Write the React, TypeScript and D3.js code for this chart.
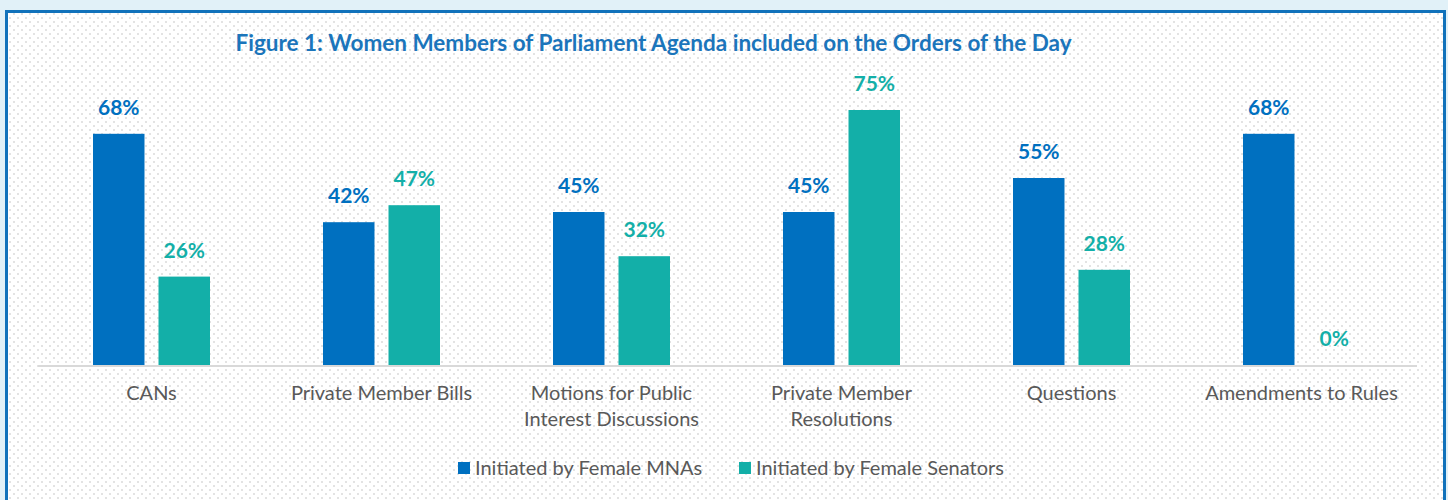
import * as d3 from "d3";
import { useEffect, useRef } from "react";

const categories = [
  ["CANs"],
  ["Private Member Bills"],
  ["Motions for Public", "Interest Discussions"],
  ["Private Member", "Resolutions"],
  ["Questions"],
  ["Amendments to Rules"],
];
const seriesNames = ["Initiated by Female MNAs", "Initiated by Female Senators"];
const mnaValues = [68, 42, 45, 45, 55, 68];
const senatorValues = [26, 47, 32, 75, 28, 0];
const colors = ["#0070C0", "#13AFA8"];

const W = 1448;
const H = 500;
const FONT = "Lato, 'Open Sans', sans-serif";

const App = () => {
  const chartRef = useRef(null);

  useEffect(() => {
    const svg = d3.select(chartRef.current);
    svg.selectAll("*").remove();

    const margin = { top: 93, bottom: 135, left: 36.5, right: 31.5 };
    const baseY = H - margin.bottom;

    // background + frame
    const defs = svg.append("defs");
    const pat = defs.append("pattern")
      .attr("id", "dots")
      .attr("width", 8)
      .attr("height", 8)
      .attr("patternUnits", "userSpaceOnUse");
    pat.append("rect").attr("width", 8).attr("height", 8).attr("fill", "#ffffff");
    pat.append("rect").attr("x", 1).attr("y", 1).attr("width", 2).attr("height", 2).attr("fill", "#e3e3e3");
    pat.append("rect").attr("x", 5).attr("y", 5).attr("width", 2).attr("height", 2).attr("fill", "#e3e3e3");

    svg.append("rect").attr("width", W).attr("height", H).attr("fill", "#e1f1f8");
    svg.append("rect")
      .attr("x", 6.5).attr("y", 11.5)
      .attr("width", 1438).attr("height", 500)
      .attr("fill", "url(#dots)")
      .attr("stroke", "#1172bb")
      .attr("stroke-width", 3);

    const idx = categories.map((_, i) => i);

    const scaleX = d3.scaleBand()
      .domain(idx)
      .range([margin.left, W - margin.right]);

    const scaleSub = d3.scaleBand()
      .domain([0, 1])
      .range([56.5, 173.5])
      .paddingInner(0.214);

    const scaleY = d3.scaleLinear()
      .domain([0, 80])
      .range([baseY, margin.top]);

    // title
    svg.append("text")
      .attr("x", 653.5)
      .attr("y", 51)
      .attr("text-anchor", "middle")
      .attr("font-family", FONT)
      .attr("font-weight", "bold")
      .attr("font-size", 22.5)
      .attr("fill", "#1B75BB")
      .text("Figure 1: Women Members of Parliament Agenda included on the Orders of the Day");

    const series = [mnaValues, senatorValues];
    series.forEach((vals, s) => {
      const g = svg.append("g");
      g.selectAll("rect")
        .data(vals)
        .enter()
        .append("rect")
        .attr("x", (d, i) => scaleX(i) + scaleSub(s))
        .attr("y", d => scaleY(d))
        .attr("width", scaleSub.bandwidth())
        .attr("height", d => baseY - scaleY(d))
        .attr("fill", colors[s]);
      g.selectAll("text")
        .data(vals)
        .enter()
        .append("text")
        .attr("x", (d, i) => scaleX(i) + scaleSub(s) + scaleSub.bandwidth() / 2)
        .attr("y", d => scaleY(d) - 19)
        .attr("text-anchor", "middle")
        .attr("font-family", FONT)
        .attr("font-weight", "bold")
        .attr("font-size", 21)
        .attr("fill", colors[s])
        .text(d => d + "%");
    });

    // axis line
    svg.append("line")
      .attr("x1", 38).attr("x2", 1417)
      .attr("y1", baseY + 1).attr("y2", baseY + 1)
      .attr("stroke", "#d9d9d9")
      .attr("stroke-width", 2);

    // category labels
    const labels = svg.append("g");
    categories.forEach((lines, i) => {
      const t = labels.append("text")
        .attr("x", scaleX(i) + scaleX.bandwidth() / 2)
        .attr("y", 400)
        .attr("text-anchor", "middle")
        .attr("font-family", FONT)
        .attr("font-size", 20)
        .attr("fill", "#595959");
      lines.forEach((l, j) => {
        t.append("tspan")
          .attr("x", scaleX(i) + scaleX.bandwidth() / 2)
          .attr("dy", j === 0 ? 0 : 26)
          .text(l);
      });
    });

    // legend
    const legendX = [458, 739];
    seriesNames.forEach((name, s) => {
      svg.append("rect")
        .attr("x", legendX[s]).attr("y", 462)
        .attr("width", 12).attr("height", 12)
        .attr("fill", colors[s]);
      svg.append("text")
        .attr("x", legendX[s] + 17)
        .attr("y", 475)
        .attr("font-family", FONT)
        .attr("font-size", 20)
        .attr("fill", "#595959")
        .text(name);
    });
  }, []);

  return (
    <svg ref={chartRef} width={W} height={H}
      style={{ position: "absolute", left: 0, top: 0, display: "block" }} />
  );
};

export default App;
